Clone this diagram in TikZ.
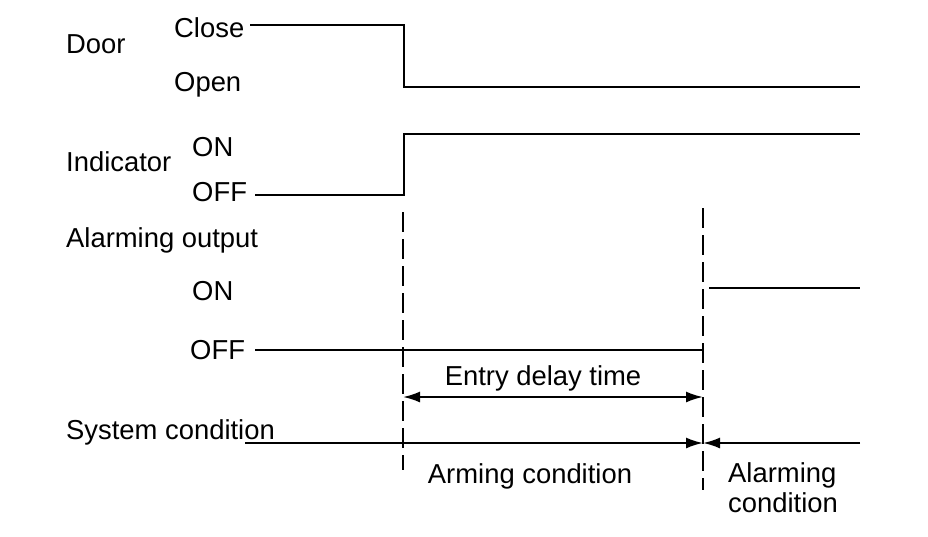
\documentclass[tikz,border=0pt]{standalone}
\usepackage{fontspec}
\setmainfont{Liberation Sans}
\usetikzlibrary{positioning, arrows.meta}

\begin{document}
\begin{tikzpicture}[x=1pt, y=-1pt,
  label node/.style={anchor=west, inner sep=0pt, font=\fontsize{27.4}{30}\selectfont},
  signal/.style={line width=1.3pt},
  marker/.style={line width=1.3pt, dash pattern=on 20pt off 7pt},
  span/.style={line width=2pt, {Latex[length=17pt,width=11pt]}-{Latex[length=17pt,width=11pt]}},
  halfspan/.style={line width=2pt, -{Latex[length=17pt,width=11pt]}}]
\useasboundingbox (0,0) rectangle (928,536);

% labels on the left
\node[label node] (door) at (66,44) {Door};
\node[label node] (close) at (174,28) {Close};
\node[label node] (open) at (174,85) {Open};
\node[label node] (ind) at (66,162) {Indicator};
\node[label node] (indon) at (192,147) {ON};
\node[label node] (indoff) at (192,192) {OFF};
\node[label node] (alarm) at (66,240) {Alarming output};
\node[label node] (alon) at (192,291) {ON};
\node[label node] (aloff) at (190,350) {OFF};
\node[label node] (sys) at (66,432) {System condition};

% texts in the chart
\node[label node, anchor=center] (delay) at (543,378) {Entry delay time};
\node[label node, anchor=center] (arming) at (530,476) {Arming condition};
\node[label node, anchor=north west, align=left]
  (alarming) at (728,462) {Alarming\\condition};

% signal corners
\coordinate (d1) at (250,25);
\coordinate (d2) at (404,25);
\coordinate (d3) at (404,87);
\coordinate (d4) at (860,87);
\coordinate (i1) at (255,195);
\coordinate (i2) at (404,195);
\coordinate (i3) at (404,134);
\coordinate (i4) at (860,134);
\coordinate (a1) at (255,350);
\coordinate (a2) at (703,350);
\coordinate (a3) at (709,288);
\coordinate (a4) at (860,288);

% time marks
\coordinate (m1) at (403,212);
\coordinate (m2) at (403,470);
\coordinate (n1) at (703,208);
\coordinate (n2) at (703,490);
\coordinate (e1) at (403,397);
\coordinate (e2) at (703,397);
\coordinate (s1) at (245,443);
\coordinate (s2) at (703,443);
\coordinate (s3) at (860,443);

\draw[signal] (d1) -- (d2) -- (d3) -- (d4);
\draw[signal] (i1) -- (i2) -- (i3) -- (i4);
\draw[signal] (a1) -- (a2);
\draw[signal] (a3) -- (a4);

\draw[marker] (m1) -- (m2);
\draw[marker] (n1) -- (n2);

\draw[span] (e1) -- (e2);
\draw[halfspan] (s1) -- (s2);
\draw[halfspan] (s3) -- (s2);
\end{tikzpicture}
\end{document}
